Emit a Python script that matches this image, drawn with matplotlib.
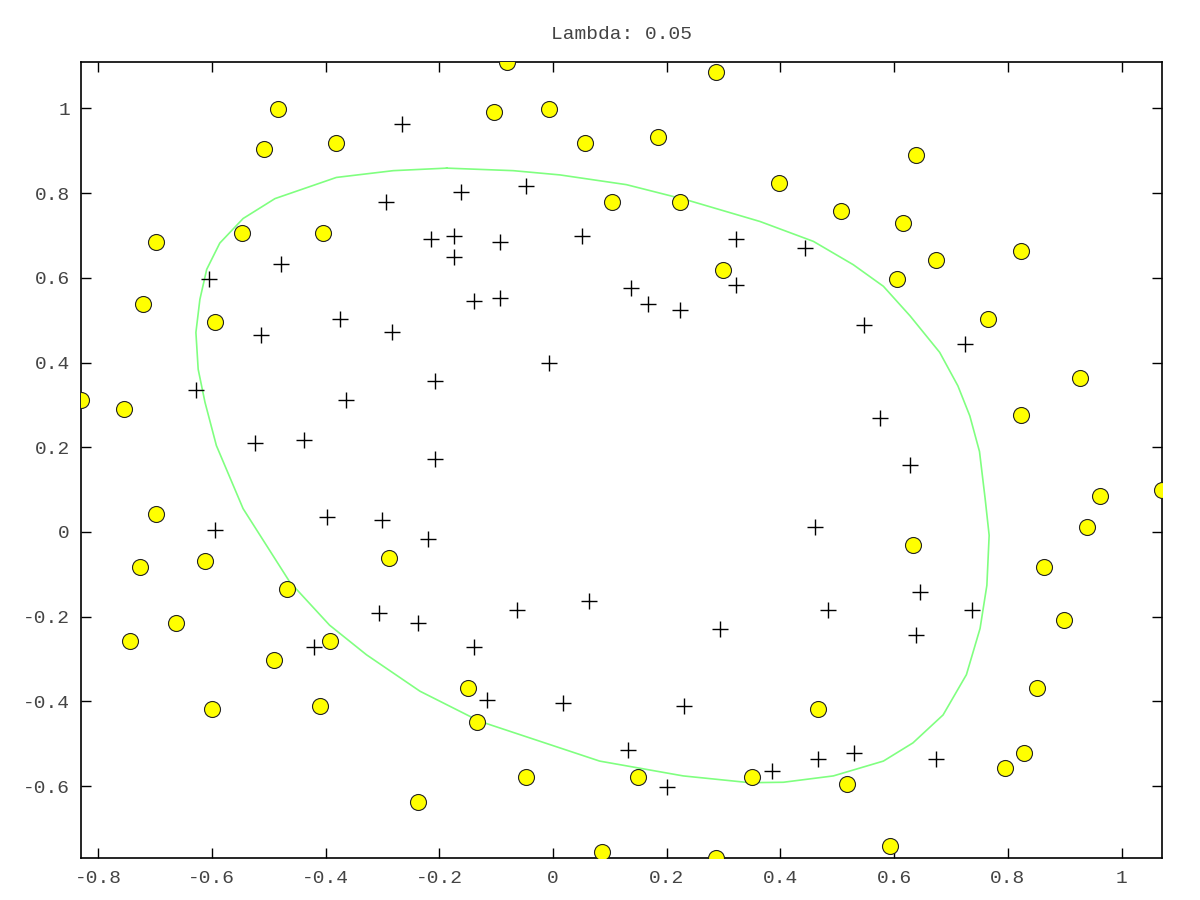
import numpy as np
import matplotlib
matplotlib.use("Agg")
import matplotlib.pyplot as plt

# accepted microchips (y = 1)
pos_x = [0.051267, -0.092742, -0.21371, -0.375, -0.51325, -0.52477, -0.39804, -0.30588,
         0.016705, 0.13191, 0.38537, 0.52938, 0.63882, 0.73675, 0.54666, 0.322, 0.16647,
         -0.046659, -0.17339, -0.47869, -0.60541, -0.62846, -0.59389, -0.42108, -0.11578,
         0.20104, 0.46601, 0.67339, -0.13882, -0.29435, -0.26555, -0.16187, -0.17339,
         -0.28283, -0.36348, -0.30012, -0.23675, -0.06394, 0.062788, 0.22984, 0.2932,
         0.48329, 0.64459, 0.46025, 0.6273, 0.57546, 0.72523, 0.22408, 0.44297, 0.322,
         0.13767, -0.0063364, -0.092742, -0.20795, -0.20795, -0.43836, -0.21947, -0.13882]
pos_y = [0.69956, 0.68494, 0.69225, 0.50219, 0.46564, 0.2098, 0.034357, -0.19225,
         -0.40424, -0.51389, -0.56506, -0.5212, -0.24342, -0.18494, 0.48757, 0.5826, 0.53874,
         0.81652, 0.69956, 0.63377, 0.59722, 0.33406, 0.005117, -0.27266, -0.39693,
         -0.60161, -0.53582, -0.53582, 0.54605, 0.77997, 0.96272, 0.8019, 0.64839,
         0.47295, 0.31213, 0.027047, -0.21418, -0.18494, -0.16301, -0.41155, -0.2288,
         -0.18494, -0.14108, 0.012427, 0.15863, 0.26827, 0.44371, 0.52412, 0.67032, 0.69225,
         0.57529, 0.39985, 0.55336, 0.35599, 0.17325, 0.21711, -0.016813, -0.27266]

# rejected microchips (y = 0)
neg_x = [0.18376, 0.22408, 0.29896, 0.50634, 0.61578, 0.60426, 0.76555, 0.92684, 0.82316,
         0.96141, 0.93836, 0.86348, 0.89804, 0.85196, 0.82892, 0.79435, 0.59274, 0.51786,
         0.46601, 0.35081, 0.28744, 0.085829, 0.14919, -0.13306, -0.40956, -0.39228,
         -0.74366, -0.69758, -0.75518, -0.69758, -0.4038, -0.38076, -0.50749, -0.54781,
         0.10311, 0.057028, -0.10426, -0.081221, 0.28744, 0.39689, 0.63882, 0.82316,
         0.67339, 1.0709, -0.046659, -0.23675, -0.15035, -0.49021, -0.46717, -0.28859,
         -0.61118, -0.66302, -0.59965, -0.72638, -0.83007, -0.72062, -0.59389, -0.48445,
         -0.0063364, 0.63265]
neg_y = [0.93348, 0.77997, 0.61915, 0.75804, 0.7288, 0.59722, 0.50219, 0.3633, 0.27558,
         0.085526, 0.012427, -0.082602, -0.20687, -0.36769, -0.5212, -0.55775, -0.7405,
         -0.5943, -0.41886, -0.57968, -0.76974, -0.75512, -0.57968, -0.4481, -0.41155,
         -0.25804, -0.25804, 0.041667, 0.2902, 0.68494, 0.70687, 0.91886, 0.90424, 0.70687,
         0.77997, 0.91886, 0.99196, 1.1089, 1.087, 0.82383, 0.88962, 0.66301, 0.64108,
         0.10015, -0.57968, -0.63816, -0.36769, -0.3019, -0.13377, -0.060673, -0.067982,
         -0.21418, -0.41886, -0.082602, 0.31213, 0.53874, 0.49488, 0.99927, 0.99927,
         -0.030612]

# decision boundary
bnd_x = [-0.187, -0.070, 0.012, 0.129, 0.235, 0.364, 0.458, 0.528, 0.581, 0.628, 0.680,
         0.712, 0.733, 0.750, 0.760, 0.767, 0.763, 0.751, 0.727, 0.686, 0.633, 0.581, 0.493,
         0.405, 0.346, 0.229, 0.082, -0.129, -0.234, -0.328, -0.393, -0.463, -0.545, -0.592,
         -0.612, -0.624, -0.628, -0.621, -0.609, -0.586, -0.545, -0.489, -0.381, -0.281,
         -0.187]
bnd_y = [0.859, 0.853, 0.843, 0.820, 0.784, 0.733, 0.686, 0.631, 0.580, 0.510, 0.424,
         0.345, 0.274, 0.190, 0.078, -0.008, -0.126, -0.228, -0.337, -0.432, -0.498, -0.541,
         -0.576, -0.591, -0.592, -0.576, -0.541, -0.447, -0.376, -0.290, -0.220, -0.118,
         0.055, 0.204, 0.306, 0.384, 0.471, 0.549, 0.620, 0.682, 0.740, 0.787, 0.837, 0.853,
         0.859]

plt.rcParams['font.family'] = ['Liberation Mono', 'DejaVu Sans Mono']

fig = plt.figure(figsize=(12, 9), dpi=100)
ax = fig.add_axes([0.0675, 0.0467, 0.9008, 0.8841])

ax.plot(pos_x, pos_y, 'k+', markersize=12, markeredgewidth=1.0, zorder=3)
ax.plot(neg_x, neg_y, 'o', markerfacecolor='#ffff00', markeredgecolor='#222222',
        markersize=11.5, markeredgewidth=0.8, zorder=3)
ax.plot(bnd_x, bnd_y, color='#80ff80', linewidth=1.2, zorder=2)

allx = pos_x + neg_x
ally = pos_y + neg_y
ax.set_xlim(min(allx), max(allx))
ax.set_ylim(min(ally), max(ally))

ax.set_xticks(np.arange(-0.8, 1.01, 0.2))
ax.set_yticks(np.arange(-0.6, 1.01, 0.2))
ax.set_xticklabels(['-0.8', '-0.6', '-0.4', '-0.2', '0', '0.2', '0.4', '0.6', '0.8', '1'])
ax.set_yticklabels(['-0.6', '-0.4', '-0.2', '0', '0.2', '0.4', '0.6', '0.8', '1'])
ax.tick_params(direction='in', length=7, width=1, top=True, right=True,
               labelsize=14, labelcolor='#444444', pad=8)
ax.tick_params(axis='x', pad=9)
for s in ax.spines.values():
    s.set_linewidth(1.2)

ax.set_title('Lambda: 0.05', fontsize=14, color='#444444', pad=17)

fig.savefig('out.png', dpi=100)
